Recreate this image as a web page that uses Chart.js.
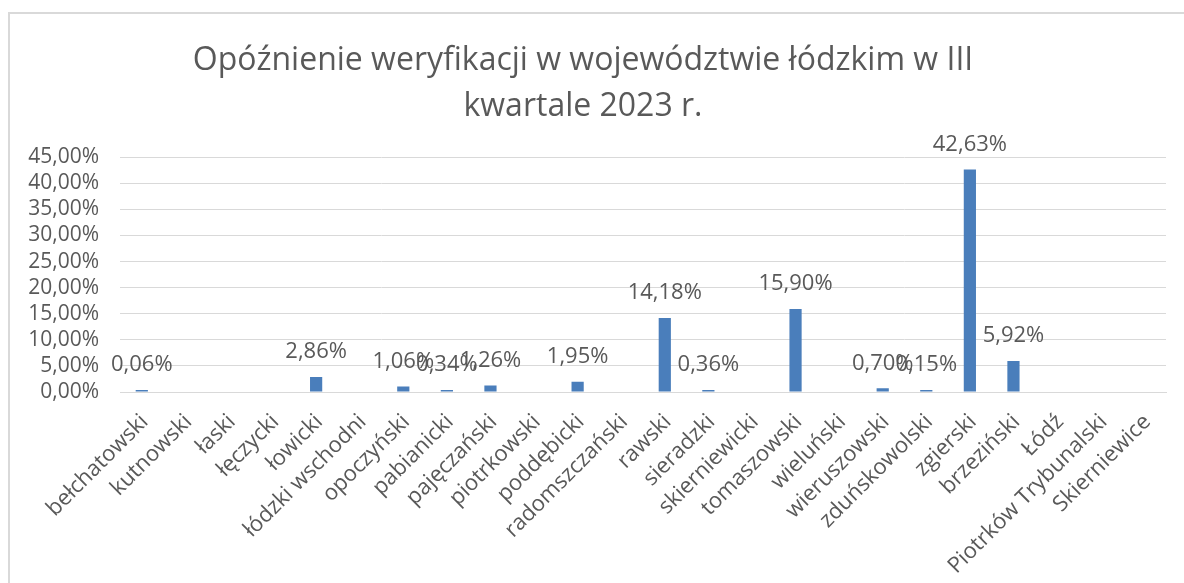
<!DOCTYPE html>
<html lang="pl">
<head>
<meta charset="utf-8">
<title>Opóźnienie weryfikacji</title>
<script src="https://cdn.jsdelivr.net/npm/chart.js@4/dist/chart.umd.min.js"></script>
<style>
  html, body { margin: 0; padding: 0; background: #fff; overflow: hidden; }
  .ramka {
    position: absolute; left: 8px; top: 12px;
    width: 1200px; height: 600px;
    border: 2px solid #d9d9d9;
  }
  #wykres { position: absolute; left: 0; top: 0; }
</style>
</head>
<body>
<div class="ramka"></div>
<canvas id="wykres" width="1184" height="583"></canvas>
<script>
// Powiaty i miasta na prawach powiatu
const powiaty = [
  'bełchatowski', 'kutnowski', 'łaski', 'łęczycki', 'łowicki', 'łódzki wschodni',
  'opoczyński', 'pabianicki', 'pajęczański', 'piotrkowski', 'poddębicki', 'radomszczański',
  'rawski', 'sieradzki', 'skierniewicki', 'tomaszowski', 'wieluński', 'wieruszowski',
  'zduńskowolski', 'zgierski', 'brzeziński', 'Łódź', 'Piotrków Trybunalski', 'Skierniewice'
];

// Opóźnienie w % (null = brak wartości na wykresie)
const opoznienie = [
  0.06, null, null, null, 2.86, null,
  1.06, 0.34, 1.26, null, 1.95, null,
  14.18, 0.36, null, 15.90, null, 0.70,
  0.15, 42.63, 5.92, null, null, null
];

const tytul = ['Opóźnienie weryfikacji w województwie łódzkim w III', 'kwartale 2023 r.'];
const osY = { min: 0, max: 45, krok: 5 };

const szary = '#595959';
const siatka = '#d9d9d9';
const czcionka = '"Open Sans", "DejaVu Sans", sans-serif';

function formatProcent(v) {
  return v.toFixed(2).replace('.', ',') + '%';
}

// Etykiety danych nad słupkami (jak w Excelu)
const etykietyDanych = {
  id: 'etykietyDanych',
  afterDatasetsDraw(chart) {
    const ctx = chart.ctx;
    const meta = chart.getDatasetMeta(0);
    ctx.save();
    ctx.font = '22px ' + czcionka;
    ctx.fillStyle = szary;
    ctx.textAlign = 'center';
    ctx.textBaseline = 'middle';
    meta.data.forEach((bar, i) => {
      const v = opoznienie[i];
      if (v === null) return;
      ctx.fillText(formatProcent(v), bar.x, bar.y - 25);
    });
    ctx.restore();
  }
};

new Chart(document.getElementById('wykres'), {
  type: 'bar',
  data: {
    labels: powiaty,
    datasets: [{
      data: opoznienie,
      backgroundColor: '#4A7EBB',
      categoryPercentage: 1,
      barPercentage: 0.28,
      minBarLength: 2
    }]
  },
  options: {
    responsive: false,
    animation: false,
    layout: { padding: { left: 0, right: 18, top: 0, bottom: 0 } },
    plugins: {
      legend: { display: false },
      tooltip: { enabled: false },
      title: {
        display: true,
        text: tytul,
        color: szary,
        font: { family: czcionka, size: 32, weight: 'normal', lineHeight: 1.44 },
        padding: { top: 38, bottom: 27 }
      }
    },
    scales: {
      x: {
        grid: { display: false },
        border: { display: true, color: siatka, width: 1 },
        ticks: {
          color: szary,
          autoSkip: false,
          minRotation: 45,
          maxRotation: 45,
          padding: 9,
          labelOffset: 3,
          font: { family: czcionka, size: 22 }
        },
        afterFit(scale) { scale.height = 191; }
      },
      y: {
        min: osY.min,
        max: osY.max,
        border: { display: false },
        grid: { color: siatka, lineWidth: 1, drawTicks: false },
        ticks: {
          stepSize: osY.krok,
          autoSkip: false,
          color: szary,
          padding: 21,
          font: { family: czcionka, size: 21 },
          callback: v => formatProcent(v)
        },
        afterFit(scale) { scale.width = 120; }
      }
    }
  },
  plugins: [etykietyDanych]
});
</script>
</body>
</html>
